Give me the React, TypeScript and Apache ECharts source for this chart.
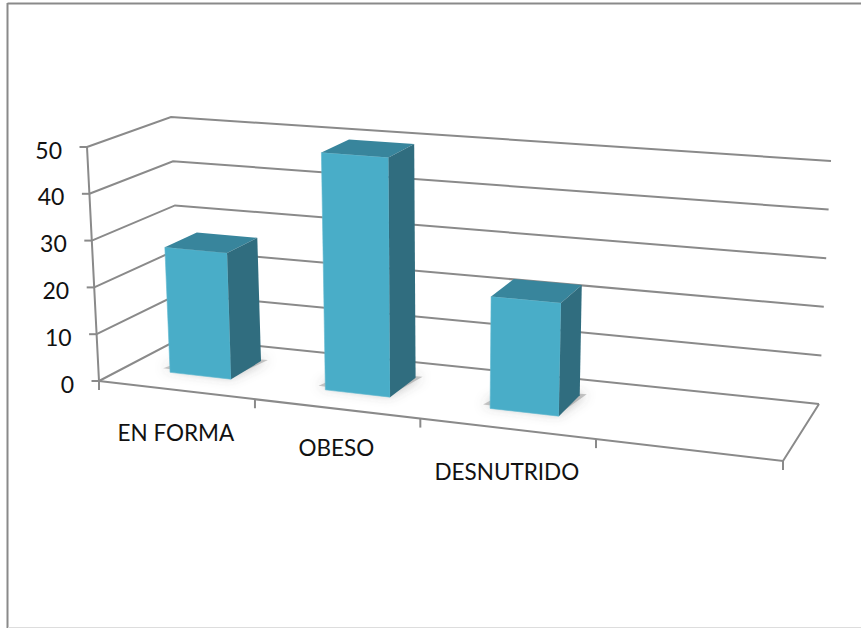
import React, { useEffect, useRef } from "react";
import * as echarts from "echarts";

const categories = ["EN FORMA", "OBESO", "DESNUTRIDO"];
const values = [27, 50, 23];
const valueTicks = [0, 10, 20, 30, 40, 50];
const slotCount = 4; // the plot keeps one empty slot after the last category
const categoryTicks = [0, 1, 2, 3, 4];

// Corners of the drawn box: [x, y] in pixels
const FRONT_LEFT_BOTTOM = [99, 381];
const FRONT_RIGHT_BOTTOM = [783, 461];
const BACK_LEFT_BOTTOM = [181, 338];
const BACK_RIGHT_BOTTOM = [819, 404];
const FRONT_LEFT_TOP = [87, 147];
const FRONT_RIGHT_TOP = [797, 201];
const BACK_LEFT_TOP = [171, 117];
const BACK_RIGHT_TOP = [831, 161];

const PERSPECTIVE_B = -0.0285;
const PERSPECTIVE_A = (1 + slotCount * PERSPECTIVE_B) / slotCount;
const BAR_HALF_WIDTH = 0.2;
const BAR_DEPTH_FRONT = 0.32;
const BAR_DEPTH_BACK = 0.72;

const LINE = "#8a8a8a";
const TEXT = "#111111";
const FONT = "Lato, Carlito, sans-serif";

const mix = (a: number[], b: number[], k: number) => [a[0] + (b[0] - a[0]) * k, a[1] + (b[1] - a[1]) * k];

// u in slots, v in value units come from the axes through api.coord; d is the depth 0..1
function project(api: any, params: any, slot: number, value: number, d: number) {
  const c = api.coord([slot, value]);
  const sys = params.coordSys;
  const uNorm = ((c[0] - sys.x) / sys.width) * slotCount;
  const r = 1 - (c[1] - sys.y) / sys.height;
  const t = (uNorm * PERSPECTIVE_A) / (1 + PERSPECTIVE_B * uNorm);
  const bottom = mix(mix(FRONT_LEFT_BOTTOM, FRONT_RIGHT_BOTTOM, t), mix(BACK_LEFT_BOTTOM, BACK_RIGHT_BOTTOM, t), d);
  const top = mix(mix(FRONT_LEFT_TOP, FRONT_RIGHT_TOP, t), mix(BACK_LEFT_TOP, BACK_RIGHT_TOP, t), d);
  return mix(bottom, top, r);
}

const lineStyle = { stroke: LINE, lineWidth: 2, fill: "none" };

function renderValueTick(params: any, api: any) {
  const v = api.value(0);
  const p = (u: number, d: number) => project(api, params, u, v, d);
  const a = p(0, 0);
  const b = p(0, 1);
  const c = p(slotCount, 1);
  const children: any[] = [
    { type: "polyline", shape: { points: [a, b, c] }, style: lineStyle },
    { type: "line", shape: { x1: a[0] - 7.5, y1: a[1], x2: a[0], y2: a[1] }, style: lineStyle },
    {
      type: "text",
      style: {
        x: a[0] - 25,
        y: a[1] + 2.5,
        text: String(v),
        align: "right",
        verticalAlign: "middle",
        fill: TEXT,
        font: `23px ${FONT}`,
      },
    },
  ];
  return { type: "group", children };
}

function renderFrame(params: any, api: any) {
  const p = (u: number, v: number, d: number) => project(api, params, u, v, d);
  const fl = p(0, 0, 0);
  const fr = p(slotCount, 0, 0);
  const br = p(slotCount, 0, 1);
  const children: any[] = [
    { type: "polyline", shape: { points: [fl, fr, br] }, style: lineStyle },
    {
      type: "polyline",
      shape: { points: valueTicks.map((v) => p(0, v, 0)) },
      style: lineStyle,
    },
  ];
  categoryTicks.forEach((u) => {
    const q = p(u, 0, 0);
    children.push({
      type: "line",
      shape: { x1: q[0], y1: q[1], x2: q[0], y2: q[1] + 9 },
      style: lineStyle,
    });
  });
  return { type: "group", children };
}

const LABEL_DROP = [43, 39, 43];

function renderCategoryLabel(params: any, api: any) {
  const i = api.value(0);
  const q = project(api, params, i + 0.5, 0, 0);
  return {
    type: "text",
    style: {
      x: q[0],
      y: q[1] + LABEL_DROP[i],
      text: categories[i],
      align: "center",
      verticalAlign: "middle",
      fill: TEXT,
      font: `22.5px ${FONT}`,
    },
  };
}

function renderBar(params: any, api: any) {
  const i = api.value(0);
  const v = api.value(1);
  const u0 = i + 0.5 - BAR_HALF_WIDTH;
  const u1 = i + 0.5 + BAR_HALF_WIDTH;
  const p = (u: number, val: number, d: number) => project(api, params, u, val, d);
  const df = BAR_DEPTH_FRONT;
  const db = BAR_DEPTH_BACK;
  const flb = p(u0, 0, df);
  const frb = p(u1, 0, df);
  const brb = p(u1, 0, db);
  const blb = p(u0, 0, db);
  const flt = p(u0, v, df);
  const frt = p(u1, v, df);
  const brt = p(u1, v, db);
  const blt = p(u0, v, db);
  const shadowPts = [
    [flb[0] - 7, flb[1] - 4],
    [frb[0], frb[1] - 2],
    [brb[0] + 7, brb[1] - 1],
    [blb[0], blb[1]],
  ];
  return {
    type: "group",
    children: [
      {
        type: "polygon",
        shape: { points: shadowPts },
        style: { fill: "rgba(130,130,130,0.45)", shadowBlur: 12, shadowColor: "rgba(70,70,70,0.8)", shadowOffsetX: 0, shadowOffsetY: 0 },
      },
      { type: "polygon", shape: { points: [flb, frb, frt, flt] }, style: { fill: "#49ADC8", stroke: "#5FB8D0", lineWidth: 0.6 } },
      { type: "polygon", shape: { points: [flt, frt, brt, blt] }, style: { fill: "#38859C" } },
      { type: "polygon", shape: { points: [frb, brb, brt, frt] }, style: { fill: "#306D7F" } },
    ],
  };
}

export default function App() {
  const ref = useRef<HTMLDivElement>(null);
  useEffect(() => {
    document.body.style.margin = "0";
    document.body.style.background = "#ffffff";
    const chart = echarts.init(ref.current!, undefined, { renderer: "svg" });
    chart.setOption({
      animation: false,
      backgroundColor: "#ffffff",
      grid: { left: 100, right: 100, top: 100, bottom: 100 },
      xAxis: { type: "value", min: 0, max: slotCount, interval: 1, show: false },
      yAxis: { type: "value", min: 0, max: 50, interval: 10, show: false },
      graphic: [
        { type: "line", silent: true, shape: { x1: 7.5, y1: 3.5, x2: 861, y2: 3.5 }, style: { stroke: LINE, lineWidth: 2 } },
        { type: "line", silent: true, shape: { x1: 7.5, y1: 3, x2: 7.5, y2: 628 }, style: { stroke: LINE, lineWidth: 2 } },
        { type: "line", silent: true, shape: { x1: 8, y1: 627.5, x2: 861, y2: 627.5 }, style: { stroke: "#dddddd", lineWidth: 1 } },
      ],
      series: [
        {
          type: "custom",
          name: "ejes",
          coordinateSystem: "cartesian2d",
          clip: false,
          silent: true,
          z: 1,
          data: [[0]],
          renderItem: renderFrame,
        },
        {
          type: "custom",
          name: "rejilla",
          coordinateSystem: "cartesian2d",
          clip: false,
          silent: true,
          z: 2,
          data: valueTicks.map((v) => [v]),
          encode: { y: 0 },
          renderItem: renderValueTick,
        },
        {
          type: "custom",
          name: "categorias",
          coordinateSystem: "cartesian2d",
          clip: false,
          silent: true,
          z: 3,
          data: categories.map((_, i) => [i]),
          renderItem: renderCategoryLabel,
        },
        {
          type: "custom",
          name: "valores",
          coordinateSystem: "cartesian2d",
          clip: false,
          silent: true,
          z: 4,
          data: values.map((v, i) => [i, v]),
          encode: { x: 0, y: 1 },
          renderItem: renderBar,
        },
      ],
    });
    return () => chart.dispose();
  }, []);
  return <div ref={ref} style={{ width: 861, height: 628 }} />;
}
